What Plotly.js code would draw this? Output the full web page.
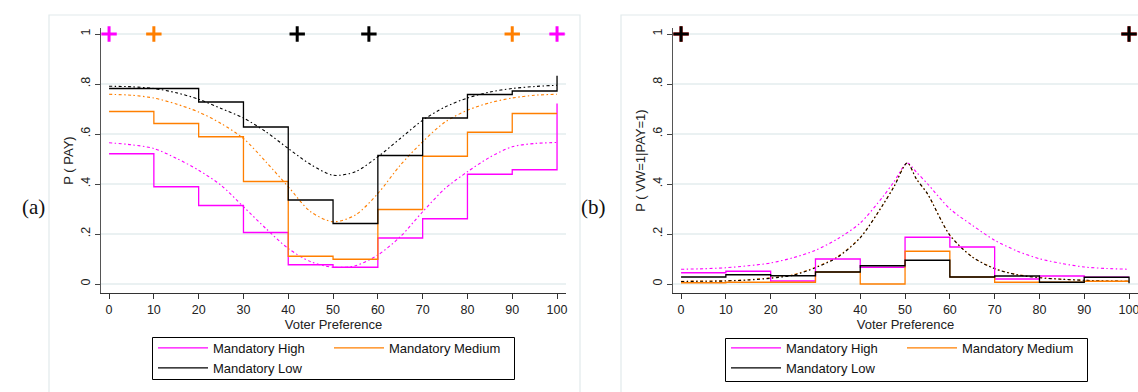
<!DOCTYPE html>
<html><head><meta charset="utf-8">
<script src="https://cdn.plot.ly/plotly-3.0.1.min.js"></script>
<style>html,body{margin:0;padding:0;background:#fff;} #chart{width:1138px;height:392px;}</style>
</head><body><div id="chart"></div>
<script>
// ---- data: panel (a) P(PAY) ----
const binEdges = [0,10,20,30,40,50,60,70,80,90,100];
const payHigh   = [0.521,0.389,0.314,0.206,0.077,0.067,0.184,0.261,0.439,0.457,0.722];
const payMedium = [0.690,0.642,0.589,0.410,0.111,0.099,0.298,0.511,0.607,0.682,0.682];
const payLow    = [0.782,0.782,0.728,0.628,0.336,0.242,0.514,0.664,0.758,0.772,0.833];

const fitX = [0,5,10,15,20,25,30,35,40,45,50,55,60,65,70,75,80,85,90,95,100];
const fitPayHigh   = [0.565,0.557,0.542,0.503,0.455,0.395,0.309,0.222,0.142,0.089,0.067,0.073,0.116,0.189,0.289,0.382,0.449,0.507,0.549,0.562,0.566];
const fitPayMedium = [0.759,0.755,0.744,0.720,0.688,0.642,0.582,0.489,0.389,0.289,0.249,0.276,0.362,0.475,0.569,0.648,0.695,0.725,0.744,0.755,0.759];
const fitPayLow    = [0.791,0.789,0.782,0.765,0.739,0.702,0.664,0.609,0.542,0.478,0.435,0.449,0.509,0.582,0.655,0.708,0.744,0.768,0.782,0.790,0.795];

const cutHighX = [0,100], cutMediumX = [10,90], cutLowX = [42,58];
const cutY = 1;

// ---- data: panel (b) P(VW=1|PAY=1) ----
const vwHigh   = [0.045,0.051,0.012,0.100,0.067,0.187,0.148,0.020,0.032,0.027,0.027];
const vwMedium = [0.005,0.007,0.007,0.048,0.000,0.131,0.028,0.007,0.007,0.011,0.011];
const vwLow    = [0.028,0.037,0.033,0.048,0.073,0.095,0.028,0.032,0.007,0.027,0.003];

const fitVwX = [0,5,10,15,20,25,30,35,40,45,47.5,50.5,52.5,55,60,65,70,75,80,85,90,95,100];
const fitVwHigh   = [0.059,0.061,0.065,0.073,0.084,0.105,0.135,0.181,0.244,0.348,0.408,0.484,0.448,0.401,0.301,0.235,0.175,0.132,0.101,0.082,0.068,0.062,0.059];
const fitVwMedium = [0.011,0.012,0.013,0.017,0.025,0.037,0.067,0.110,0.186,0.315,0.390,0.484,0.421,0.361,0.196,0.109,0.062,0.038,0.026,0.019,0.015,0.012,0.011];
const fitVwLow    = [0.010,0.011,0.012,0.016,0.023,0.035,0.065,0.108,0.185,0.315,0.388,0.484,0.421,0.361,0.195,0.108,0.061,0.037,0.025,0.019,0.015,0.012,0.011];

const vwCutX = [0,100];

const yTickVals = [0,0.2,0.4,0.6,0.8,1];
const yTickText = ['0','.2','.4','.6','.8','1'];
const xTickVals = [0,10,20,30,40,50,60,70,80,90,100];

const seriesNames = ['Mandatory High','Mandatory Medium','Mandatory Low'];
const colors = ['#ff00ff','#ff7f00','#000000'];

const FONT = 'Liberation Sans, Arial, sans-serif';
const W = 1138, H = 392;
const px = v => v / W;
const py = v => (H - v) / H;

const traces = [];
function addPanel(xa, ya, fx, fits, steps, cuts, legendId, groupPrefix) {
  fits.forEach((f, i) => traces.push({
    x: fx, y: f, xaxis: xa, yaxis: ya, type: 'scatter', mode: 'lines',
    line: {color: colors[i], width: 1.1, dash: '3px,2.5px,1.5px,2.5px', shape: 'spline', smoothing: 0.8},
    showlegend: false, hoverinfo: 'skip'
  }));
  const groups = [groupPrefix + 'a', groupPrefix + 'b', groupPrefix + 'a'];
  steps.forEach((s, i) => traces.push({
    x: binEdges, y: s, xaxis: xa, yaxis: ya, type: 'scatter', mode: 'lines',
    line: {color: colors[i], width: 1.3, shape: 'hv'},
    name: seriesNames[i], legend: legendId, legendgroup: groups[i], showlegend: true, hoverinfo: 'skip'
  }));
  cuts.forEach((c, i) => traces.push({
    x: c, y: c.map(() => cutY), xaxis: xa, yaxis: ya, type: 'scatter', mode: 'markers',
    marker: {symbol: 'cross-thin', size: 11, color: colors[i], line: {color: colors[i], width: 3}},
    cliponaxis: false, showlegend: false, hoverinfo: 'skip'
  }));
}
addPanel('x', 'y', fitX, [fitPayHigh, fitPayMedium, fitPayLow], [payHigh, payMedium, payLow],
         [cutHighX, cutMediumX, cutLowX], 'legend', 'p');
addPanel('x2', 'y2', fitVwX, [fitVwHigh, fitVwMedium, fitVwLow], [vwHigh, vwMedium, vwLow],
         [vwCutX, vwCutX, vwCutX], 'legend2', 'v');

const tickFont = {family: FONT, size: 12.5, color: '#222'};
function xAxis(domain, anchor) {
  return {domain: domain, anchor: anchor, range: [-1.8, 102], tickvals: xTickVals,
    ticks: 'outside', ticklen: 5, tickcolor: '#333', showline: true, linecolor: '#333', linewidth: 1,
    showgrid: false, zeroline: false, tickfont: tickFont, ticklabeloverflow: 'allow',
    title: {text: 'Voter Preference', font: {family: FONT, size: 13, color: '#222'}, standoff: 2}};
}
function yAxis(anchor, title) {
  return {domain: [py(293), py(28)], anchor: anchor, range: [-0.036, 1.024], tickvals: yTickVals, ticktext: yTickText,
    tickangle: -90, ticks: 'outside', ticklen: 5, tickcolor: '#444', showline: true, linecolor: '#555', linewidth: 1,
    showgrid: true, gridcolor: '#eaf1f2', gridwidth: 1.6, zeroline: false, tickfont: tickFont,
    title: {text: title, font: {family: FONT, size: 13, color: '#222'}, standoff: 2}};
}
function legendCfg(xpx) {
  return {x: px(xpx), xanchor: 'left', y: py(333), yanchor: 'top', orientation: 'h',
    traceorder: 'grouped', tracegroupgap: 0, borderwidth: 0, bgcolor: 'rgba(0,0,0,0)',
    itemwidth: 50, entrywidth: 111, font: {family: FONT, size: 13, color: '#111'}};
}

const layout = {
  width: W, height: H, margin: {l: 0, r: 0, t: 0, b: 0},
  paper_bgcolor: '#fff', plot_bgcolor: '#fff', showlegend: true,
  xaxis: xAxis([px(101), px(566)], 'y'),
  yaxis: yAxis('x', 'P ( PAY)'),
  xaxis2: xAxis([px(673), 1], 'y2'),
  yaxis2: yAxis('x2', 'P ( VW=1|PAY=1)'),
  legend: legendCfg(153),
  legend2: legendCfg(726),
  shapes: [
    {type: 'rect', xref: 'paper', yref: 'paper', x0: px(49), x1: px(580), y0: py(400), y1: py(15), line: {color: '#e2eaec', width: 1.2}, layer: 'below'},
    {type: 'rect', xref: 'paper', yref: 'paper', x0: px(621), x1: px(1145), y0: py(400), y1: py(15), line: {color: '#e2eaec', width: 1.2}, layer: 'below'},
    {type: 'rect', xref: 'paper', yref: 'paper', x0: px(152.5), x1: px(514.5), y0: py(379.5), y1: py(337.5), line: {color: '#000', width: 1}},
    {type: 'rect', xref: 'paper', yref: 'paper', x0: px(725.5), x1: px(1087.5), y0: py(381.5), y1: py(338.5), line: {color: '#000', width: 1}}
  ],
  annotations: [
    {text: '(a)', xref: 'paper', yref: 'paper', x: px(20), y: py(207), showarrow: false, font: {family: 'Liberation Serif, DejaVu Serif, serif', size: 21, color: '#111'}},
    {text: '(b)', xref: 'paper', yref: 'paper', x: px(593), y: py(207), showarrow: false, font: {family: 'Liberation Serif, DejaVu Serif, serif', size: 21, color: '#111'}}
  ]
};

Plotly.newPlot('chart', traces, layout, {staticPlot: true, displayModeBar: false});
</script>
</body></html>
